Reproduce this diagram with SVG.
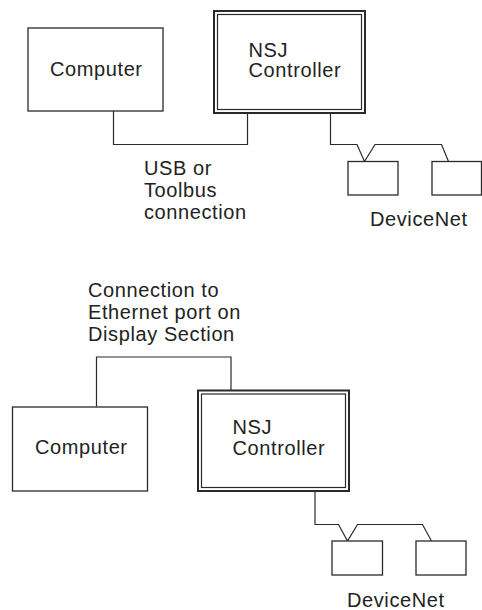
<svg xmlns="http://www.w3.org/2000/svg" width="482" height="610" viewBox="0 0 482 610">
<style>
.box{fill:#fff;stroke:#2a2a2a;stroke-width:1.3}
.outer{fill:#fff;stroke:#2a2a2a;stroke-width:2}
.inner{fill:none;stroke:#2a2a2a;stroke-width:1.2}
.wire{fill:none;stroke:#2a2a2a;stroke-width:1.2}
text{font-family:"Liberation Sans",Arial,sans-serif;font-size:20px;letter-spacing:0.6px;fill:#222}
</style>
<rect width="482" height="610" fill="#fff"/>
<g id="connectors">
<polyline class="wire" points="113.5,111 113.5,144.5 247.5,144.5 247.5,113"/>
<polyline class="wire" points="330.5,113 330.5,144.5 357,144.5 364.5,161.5 375,144.5 441.5,144.5 448.5,161.5"/>
<polyline class="wire" points="96.5,406.5 96.5,357 231,357 231,390"/>
<polyline class="wire" points="315,491 315,524.5 338.5,524.5 347.5,541 357.5,524.5 422.5,524.5 431.5,541"/>
</g>
<g id="computer1">
<rect class="box" x="28" y="28" width="135" height="83"/>
<text x="50" y="76">Computer</text>
</g>
<g id="controller1">
<rect class="outer" x="214" y="11" width="151" height="102"/>
<rect class="inner" x="217.5" y="14.5" width="144" height="95"/>
<text x="248.5" y="56.5">NSJ</text>
<text x="248.5" y="77">Controller</text>
</g>
<g id="label-usb">
<text x="144" y="175">USB or</text>
<text x="144" y="197">Toolbus</text>
<text x="144" y="218.5">connection</text>
</g>
<g id="device1a"><rect class="box" x="348" y="161.5" width="50" height="33.5"/></g>
<g id="device1b"><rect class="box" x="432" y="161.5" width="49.5" height="33.5"/></g>
<g id="devicenet1"><text x="370" y="226">DeviceNet</text></g>
<g id="label-ethernet">
<text x="88" y="297">Connection to</text>
<text x="88" y="319">Ethernet port on</text>
<text x="88" y="341">Display Section</text>
</g>
<g id="computer2">
<rect class="box" x="12.5" y="407" width="135" height="84"/>
<text x="35" y="454">Computer</text>
</g>
<g id="controller2">
<rect class="outer" x="198" y="390.5" width="151" height="100.5"/>
<rect class="inner" x="201.5" y="394" width="144" height="93.5"/>
<text x="232.5" y="433.5">NSJ</text>
<text x="232.5" y="455">Controller</text>
</g>
<g id="device2a"><rect class="box" x="332" y="541" width="50.5" height="34"/></g>
<g id="device2b"><rect class="box" x="416" y="541" width="50" height="34"/></g>
<g id="devicenet2"><text x="347" y="607">DeviceNet</text></g>
</svg>
